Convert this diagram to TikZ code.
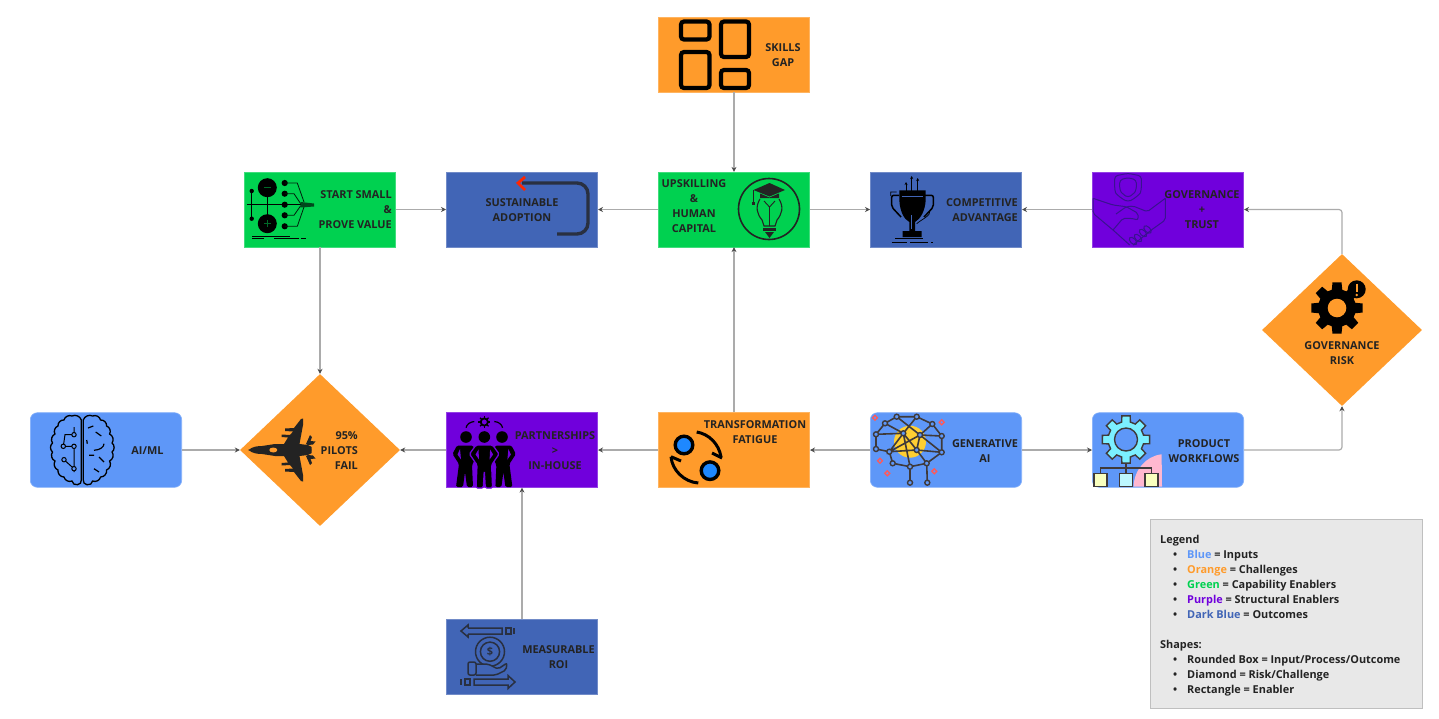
\documentclass[tikz,border=0pt]{standalone}
\usepackage{fontspec}
\setmainfont{Open Sans}
\usepackage{xcolor}
\definecolor{colInput}{HTML}{5E97F8}
\definecolor{colChallenge}{HTML}{FF9B2B}
\definecolor{colCapability}{HTML}{00D150}
\definecolor{colStructural}{HTML}{7000DC}
\definecolor{colOutcome}{HTML}{4165B6}
\definecolor{colInk}{HTML}{232323}
\definecolor{colHand}{HTML}{3A1290}
\definecolor{colNet}{HTML}{3F3A3A}
\definecolor{colPink}{HTML}{FFB8D0}
\definecolor{colCyan}{HTML}{7BEFFF}
\definecolor{colSun}{HTML}{FFCF33}
\definecolor{colSpot}{HTML}{1E88FF}
\usetikzlibrary{arrows.meta, positioning, calc, shapes.geometric}
\tikzset{
	blockrect/.style={rectangle, minimum width=151.4pt, minimum height=74.6pt, inner sep=0pt, fill=#1, draw=#1!75!white, line width=0.6pt},
	blockround/.style={blockrect=#1, rounded corners=7pt},
	riskdiamond/.style={diamond, minimum width=160pt, minimum height=152pt, inner sep=0pt, fill=colChallenge},
	lbl/.style={font=\fontsize{10.9}{15}\selectfont\bfseries, text=colInk, align=center, inner sep=0pt},
	conn/.style={draw=black!33, line width=1.2pt, rounded corners=3pt, -{Stealth[length=5pt,width=5pt,color=black!70]}},
}
\newcommand{\legitem}[1]{\makebox[27pt][l]{\hspace{13pt}\textbullet}#1}
\begin{document}
\begin{tikzpicture}[x=1pt, y=-1pt, >=Stealth]
	\useasboundingbox (0,0) rectangle (1439,718);
	% boxes
	\node[blockrect=colChallenge] (skills) at (734,54.5) {};
	\node[blockrect=colCapability] (upskill) at (734,209.5) {};
	\node[blockrect=colOutcome] (adoption) at (522,209.5) {};
	\node[blockrect=colCapability] (start) at (320,209.5) {};
	\node[blockrect=colOutcome] (advantage) at (946,209.5) {};
	\node[blockrect=colStructural] (trust) at (1168,209.5) {};
	\node[riskdiamond] (risk) at (1342,330) {};
	\node[blockround=colInput] (aiml) at (106,450) {};
	\node[riskdiamond] (pilots) at (320,450) {};
	\node[blockrect=colStructural] (partner) at (522,450) {};
	\node[blockrect=colChallenge] (fatigue) at (734,450) {};
	\node[blockround=colInput] (genai) at (946,450) {};
	\node[blockround=colInput] (product) at (1168,450) {};
	\node[blockrect=colOutcome] (roi) at (522,656.5) {};
	% connectors
	\draw[conn] (skills.south) -- (upskill.north);
	\draw[conn] (upskill.west) -- (adoption.east);
	\draw[conn] (upskill.east) -- (advantage.west);
	\draw[conn] (start.east) -- (adoption.west);
	\draw[conn] (start.south) -- (pilots.north);
	\draw[conn] (fatigue.north) -- (upskill.south);
	\draw[conn] (genai.west) -- (fatigue.east);
	\draw[conn] (genai.east) -- (product.west);
	\draw[conn] (product.east) -| (risk.south);
	\draw[conn] (risk.north) |- (trust.east);
	\draw[conn] (trust.west) -- (advantage.east);
	\draw[conn] (fatigue.west) -- (partner.east);
	\draw[conn] (partner.west) -- (pilots.east);
	\draw[conn] (aiml.east) -- (pilots.west);
	\draw[conn] (roi.north) -- (partner.south);
	% skills icon
	\draw[black, line width=4.2pt, rounded corners=3pt] (681,21.5) rectangle (709.5,39.5);
	\draw[black, line width=4.2pt, rounded corners=3pt] (721,21.5) rectangle (749,57);
	\draw[black, line width=4.2pt, rounded corners=3pt] (681,52) rectangle (709.5,88);
	\draw[black, line width=4.2pt, rounded corners=3pt] (721,70) rectangle (749,88);
	% circuit icon
	\draw[black, line width=1pt] (251.7,191) -- (251.7,218.7) (267.3,188) -- (267.3,223);
	\draw[black, line width=1.4pt] (247.3,204.7) -- (302,204.7);
	\fill[black] (267.3,187.7) circle (9.5) (267.3,223.7) circle (9.5) (251.7,191) circle (2.2) (251.7,218.7) circle (2.2);
	\draw[black!50!colCapability, line width=1.1pt] (264,187.7) -- (270.6,187.7) (264,223.7) -- (270.6,223.7) (267.3,220.4) -- (267.3,227);
	\foreach \y/\k/\e/\f in {183/297.3/304/202, 193.7/294/300.7/203.7, 215.3/294/300.7/205.7, 226.3/297.3/304/207}{
		\fill[black] (284.7,\y) circle (3.1);
		\draw[black!85!colCapability, line width=0.8pt] (284.7,\y) -- (\k,\y) -- (\e,\f);
	}
	\fill[black] (284.7,204.7) circle (3.1);
	\fill[black!65!colCapability] (300.7,202) -- (314,203.5) -- (314,206.5) -- (300.7,207.5) -- cycle;
	\draw[black, line width=0.9pt] (252.3,236.3) -- (290,236.3) (252.3,238.7) -- (264,238.7) (274,238.7) -- (299,238.7) (301.3,238.7) -- (305.7,238.7);
	% u-turn icon
	\draw[colInk!80!colOutcome, line width=3.4pt, rounded corners=11pt] (557,234) -- (588,234) -- (588,183) -- (522,183);
	\draw[red!70!orange, line width=2.8pt] (525,177) -- (518,183) -- (525,190);
	% bulb icon
	\draw[colInk, line width=1.6pt] (769,209) circle (30.5);
	\fill[colInk] (769.5,183) -- (785,190) -- (769.5,196.5) -- (753.5,190) -- cycle;
	\fill[colInk] (760,193.5) -- (760,198) -- (779,198) -- (779,193.5) -- (769.5,197.5) -- cycle;
	\draw[colInk, line width=0.9pt] (753.5,190) -- (753.5,202);
	\fill[colInk] (752,201.5) rectangle (755,205);
	\draw[colInk, line width=1.1pt] (760,199) .. controls (755,207) and (757,214) .. (762,220) -- (764,226) -- (775,226) -- (777,220) .. controls (782,214) and (784,207) .. (779,199);
	\draw[colInk, line width=0.9pt] (769.5,226) -- (769.5,207) (764,201) -- (769.5,207) -- (775,201);
	\fill[colInk] (763,227.5) rectangle (776,231);
	\fill[colInk] (765,232) -- (774,232) -- (769.5,238) -- cycle;
	% trophy icon
	\foreach \x/\y in {906/182, 911.7/176, 917.7/178}{
		\draw[black, line width=0.8pt, -{Stealth[length=3pt,width=3pt]}] (\x,191) -- (\x,\y);
	}
	\draw[black, line width=1.5pt, rounded corners=2pt] (899,195.3) -- (891.7,195.3) -- (891.7,207) -- (901,217);
	\draw[black, line width=1.5pt, rounded corners=2pt] (925,195.3) -- (933.3,195.3) -- (933.3,207) -- (924,217);
	\fill[black] (899.3,190.3) -- (925.7,190.3) -- (925.7,200) .. controls (925,212) and (920,219) .. (915,222) -- (915,231) -- (921.7,231) -- (921.7,237) -- (902.7,237) -- (902.7,231) -- (909.3,231) -- (909.3,222) .. controls (904,219) and (900,212) .. (899.3,200) -- cycle;
	\draw[colOutcome, line width=0.7pt] (901.7,196) -- (923,196) (911.7,215) -- (911.7,229);
	\draw[black, line width=0.7pt] (890.7,196) -- (890.7,192) -- (896.7,192) (930,210.3) .. controls (931,216) and (922,219) .. (916.7,223.7);
	\draw[black, line width=0.8pt] (895,238.7) -- (923.3,238.7) (891.7,242) -- (906.7,242) (910,242) -- (928.3,242) (931,242) -- (933,242);
	% handshake icon
	\draw[colHand, line width=1pt, rounded corners=3pt] (1128,173.3) -- (1114.7,176) -- (1114.7,190) .. controls (1116,194) and (1122,199) .. (1128,201.7) .. controls (1134,199) and (1140,194) .. (1141.3,190) -- (1141.3,176) -- cycle;
	\draw[colHand, line width=1pt, rounded corners=3pt] (1128,177.5) -- (1119.7,180) -- (1119.7,190) .. controls (1121,192) and (1124,195) .. (1128,197.5) .. controls (1132,195) and (1135,192) .. (1136.3,190) -- (1136.3,180) -- cycle;
	\draw[colHand, line width=1pt, rounded corners=2pt] (1093,198.3) -- (1113,205) -- (1126.3,206.7) -- (1138,213.3) -- (1138,220) -- (1131.3,218.3) -- (1123,218.3) -- (1113,230) (1093,198.3) -- (1093,213.3) -- (1113,230) -- (1129.7,245);
	\draw[colHand, line width=1pt, rounded corners=2pt] (1165.3,198.3) -- (1147.3,211.7) -- (1133,206) -- (1126.3,206.7) -- (1116,214) (1165.3,198.3) -- (1165.3,220) -- (1151.3,230) -- (1133,245);
	\foreach \x/\y in {1133/241, 1138/238, 1143/233, 1147.5/229.5}{
		\draw[colHand, line width=1pt, rotate around={45:(\x,\y)}] (\x,\y) ellipse (2.6 and 4.6);
	}
	% risk gear icon
	\begin{scope}[shift={(1337,308)}]
		\fill[black] (-18:19) \foreach \a in {0,45,...,315}{ -- (\a-16:19) -- (\a-10:26) -- (\a+10:26) -- (\a+16:19) } -- cycle;
		\fill[colChallenge] (0,0) circle (9.3);
	\end{scope}
	\fill[black] (1356.7,289.3) circle (9);
	\draw[colChallenge, line width=2pt] (1356.7,283.5) -- (1356.7,291.5);
	\fill[colChallenge] (1356.7,295) circle (1.3);
	% product icon
	\fill[colPink] (1133.5,486.7) .. controls (1134,470) and (1146,456) .. (1161.6,454.3) -- (1162,486.7) -- cycle;
	\begin{scope}[shift={(1126,439.5)}]
		\draw[fill=colCyan, draw=colNet, line width=1.4pt] (-18:18) \foreach \a in {0,45,...,315}{ -- (\a-14:18) -- (\a-10:24) -- (\a+10:24) -- (\a+14:18) } -- cycle;
		\draw[fill=colInput, draw=colNet, line width=1.4pt] (0,0) circle (11.5);
	\end{scope}
	\draw[colNet, line width=1.5pt] (1126,463) -- (1126,473) (1100.5,473) -- (1100.5,468) -- (1151.5,468) -- (1151.5,473);
	\foreach \x/\c in {1100.5/green!10!yellow!25!white, 1126/colCyan!50!white, 1151.5/green!10!yellow!25!white}{
		\draw[fill=\c, draw=colNet, line width=1.7pt] (\x-6.5,473.5) rectangle (\x+6.5,486.5);
	}
	% network icon
	\fill[colSun] (910,441.7) circle (16);
	\foreach \x/\y in {875/417.7, 941.7/422.3, 880/460.7, 887.3/473.3, 934.3/471.3}{
		\draw[red!65!white, line width=1.3pt] (\x-2.5,\y) -- (\x,\y-2.5) -- (\x+2.5,\y) -- (\x,\y+2.5) -- cycle;
	}
	\draw[colNet, line width=1.6pt]
		(885,423.3) -- (896.7,416.7) -- (916.7,416.7) -- (932.3,424) -- (941.7,436) -- (941.7,452.3) -- (926.7,463.3) -- (927.3,482.7)
		(885,423.3) -- (876,434.3) -- (876,449) -- (889.3,451.7) -- (892.7,463.3) -- (910,466.7) -- (910,482.7)
		(885,423.3) -- (903.3,433.3) -- (916.7,450) -- (941.7,452.3)
		(896.7,416.7) -- (920,435) -- (941.7,452.3)
		(916.7,416.7) -- (903.3,433.3) -- (889.3,451.7) -- (920,435) -- (932.3,424)
		(876,434.3) -- (903.3,433.3) (889.3,451.7) -- (916.7,450) -- (926.7,463.3) -- (910,466.7) (903.3,433.3) -- (910,466.7) (941.7,436) -- (920,435) -- (916.7,450);
	\foreach \x/\y in {896.7/416.7, 916.7/416.7, 885/423.3, 932.3/424, 941.7/436, 876/434.3, 876/449, 941.7/452.3, 889.3/451.7, 903.3/433.3, 920/435, 916.7/450, 892.7/463.3, 910/466.7, 926.7/463.3, 910/482.7, 927.3/482.7}{
		\draw[fill=colInput, draw=colNet, line width=1.4pt] (\x,\y) circle (2.5);
	}
	% cycle icon
	\draw[black, line width=3pt] (696.7,432) .. controls (709,434) and (719,444) .. (721,457);
	\draw[black, line width=3pt] (712,453) -- (722,458);
	\draw[black, line width=3pt] (698.3,483) .. controls (684,482) and (672,470) .. (671,456.7);
	\draw[black, line width=3pt] (671,456.7) -- (681,461);
	\draw[fill=colSpot, draw=black, line width=3.4pt] (684,445) circle (8.8);
	\draw[fill=colSpot, draw=black, line width=3.4pt] (710,470.7) circle (8.8);
	% people icon
	\foreach \x in {466,484.3,502}{
		\fill[black] (\x,437) circle (5.8);
	}
	\fill[black, rounded corners=1.5pt] (457,445.5) -- (452.5,454) -- (459,464) -- (456,487) -- (463,487) -- (465,472) -- (467,487) -- (473,487) -- (472,465) -- (477,455) -- (473,445.5) -- cycle;
	\fill[black, rounded corners=1.5pt] (511.4,445.5) -- (515.9,454) -- (509.4,464) -- (512.4,487) -- (505.4,487) -- (503.4,472) -- (501.4,487) -- (495.4,487) -- (496.4,465) -- (491.4,455) -- (495.4,445.5) -- cycle;
	\fill[colStructural] (460,449) -- (457.5,454.5) -- (461,459.5) -- cycle (508.4,449) -- (510.9,454.5) -- (507.4,459.5) -- cycle;
	\draw[fill=black, draw=colStructural, line width=1.3pt, rounded corners=1.5pt] (476,445) -- (469.5,454) -- (477,465) -- (476,488) -- (483.3,488) -- (484.3,471) -- (485.3,488) -- (492.6,488) -- (491.6,465) -- (499.1,454) -- (492.6,445) -- cycle;
	\fill[colStructural] (478.5,449.5) -- (475.5,454.5) -- (479,459.5) -- cycle (490.1,449.5) -- (493.1,454.5) -- (489.6,459.5) -- cycle;
	\begin{scope}[shift={(484.3,422)}]
		\draw[black, line width=1.8pt] (0,0) circle (3.6);
		\foreach \a in {0,45,...,315}{
			\draw[black, line width=1.3pt] (\a:4) -- (\a:6);
		}
	\end{scope}
	\draw[black, line width=1.2pt] (466,427.7) .. controls (467,424) and (470,422) .. (474.3,421.5) (502.6,427.7) .. controls (501.6,424) and (498.6,422) .. (494.3,421.5);
	% brain icon
	\draw[black, line width=1.3pt] (81.3,420) to[bend right=50] (72,416) to[bend right=50] (64,420) to[bend right=50] (58,426) to[bend right=50] (55,434) to[bend right=50] (52.5,443) to[bend right=50] (52.5,452) to[bend right=50] (55,461) to[bend right=50] (58,470) to[bend right=50] (64,477) to[bend right=50] (72,481) to[bend right=50] (77.5,484.7) to[bend right=50] (81.3,480) -- cycle;
	\draw[black, line width=1.3pt] (83.3,420) to[bend left=50] (92.6,416) to[bend left=50] (100.6,420) to[bend left=50] (106.6,426) to[bend left=50] (109.6,434) to[bend left=50] (112.1,443) to[bend left=50] (112.1,452) to[bend left=50] (109.6,461) to[bend left=50] (106.6,470) to[bend left=50] (100.6,477) to[bend left=50] (92.6,481) to[bend left=50] (87.1,484.7) to[bend left=50] (83.3,480) -- cycle;
	\draw[black, line width=1pt] (74,427) -- (74,434.7) -- (65,434.7) -- (63.3,446.3) -- (74,446.3) (74,446.3) -- (74,472) (64,459.7) -- (74,468.7);
	\foreach \x/\y in {74/434.7, 63.3/446.3, 74/446.3, 64/459.7, 74/468.7}{
		\draw[fill=colInput, draw=black, line width=1pt] (\x,\y) circle (2.2);
	}
	\draw[black, line width=1.2pt] (88,428) -- (93.3,426) (95.7,432) -- (101.3,436) (104,443.7) .. controls (104,447) and (100,450) .. (94,450.3) (86.7,440) -- (87.3,443.7) (89,455.3) -- (94,455.3) (99,457) -- (104,462) (94,468.7) -- (99,472);
	% plane icon
	\foreach \s in {1,-1}{
		\begin{scope}[shift={(0,450)}, yscale=\s]
			\fill[colInk] (248.3,0.3) .. controls (252,-3.5) and (258,-4) .. (262,-4) -- (275,-6) -- (284,-6) -- (288,-12.5) -- (281.5,-13) -- (281.5,-15.5) -- (290,-15) -- (293,-18.5) -- (285,-19) -- (285,-21.5) -- (294,-22) -- (301,-31) -- (303,-31.5) -- (303,-25) -- (299.5,-6) -- (308,-5) -- (311.7,-3) -- (311.7,0.3) -- cycle;
			\fill[colInk] (306,-6) -- (310,-15) -- (312,-13) -- (310.5,-9) -- (315.5,-8.5) -- (313,-5.5) -- (308,-5) -- cycle;
		\end{scope}
	}
	\fill[colChallenge] (273.3,450) ellipse (4 and 2.5);
	% roi icon
	\draw[colInk!80!colOutcome, line width=1.5pt] (468,628) -- (502,628) -- (502,634) -- (468,634) (468,628) -- (468,625) -- (461,631) -- (468,637) -- (468,634);
	\draw[colInk!80!colOutcome, line width=1.5pt] (506,628) rectangle (511,634) (514,628) -- (514,634);
	\draw[colInk!80!colOutcome, line width=1.5pt] (490,651.7) circle (14.5) (490,651.7) circle (9.6);
	\node[font=\fontsize{11}{11}\selectfont\bfseries, text=colInk!80!colOutcome, inner sep=0pt] (roicoin) at (490,651.7) {\$};
	\draw[fill=colOutcome, draw=colInk!80!colOutcome, line width=1.5pt, rounded corners=2pt] (468,662) -- (476,662) -- (476,675) -- (468,675) -- cycle (476,664) -- (488,664) -- (498,669) -- (507,663) -- (506,670) -- (496,675) -- (476,675);
	\draw[colInk!80!colOutcome, line width=1.5pt] (474,679) -- (474,685) -- (508,685) -- (508,688.5) -- (515,682) -- (508,675.5) -- (508,679) -- cycle;
	\draw[colInk!80!colOutcome, line width=1.5pt] (461,679) -- (461,685) (465,679) rectangle (470,685);
	% labels
	\node[lbl] (skillslbl) at (783,55.5) {SKILLS\\GAP};
	\node[lbl] (upskilllbl) at (694,206) {UPSKILLING\\\&\\HUMAN\\CAPITAL};
	\node[lbl] (adoptionlbl) at (522,210) {SUSTAINABLE\\ADOPTION};
	\node[lbl, align=right, anchor=east] (startlbl) at (392,210) {START SMALL\\\&\\PROVE VALUE};
	\node[lbl, align=right, anchor=east] (advantagelbl) at (1018,209.8) {COMPETITIVE\\ADVANTAGE};
	\node[lbl] (trustlbl) at (1202,209.8) {GOVERNANCE\\+\\TRUST};
	\node[lbl] (risklbl) at (1342,353) {GOVERNANCE\\RISK};
	\node[lbl] (aimllbl) at (147.5,450.8) {AI/ML};
	\node[lbl, align=right, anchor=east] (pilotslbl) at (358,450.8) {95\%\\PILOTS\\FAIL};
	\node[lbl] (partnerlbl) at (555,450.8) {PARTNERSHIPS\\>\\IN-HOUSE};
	\node[lbl] (fatiguelbl) at (755,432) {TRANSFORMATION\\FATIGUE};
	\node[lbl] (genailbl) at (985,450.8) {GENERATIVE\\AI};
	\node[lbl] (productlbl) at (1204,450.8) {PRODUCT\\WORKFLOWS};
	\node[lbl] (roilbl) at (558.5,657.3) {MEASURABLE\\ROI};
	% legend
	\node[fill=black!9, draw=black!25, line width=0.9pt, minimum width=272pt, minimum height=189pt, inner sep=0pt, anchor=north west] (legend) at (1150,519) {};
	\node[lbl, align=left, anchor=north west] (legendtxt) at (1160,535) {%
		Legend\\
		\legitem{\textcolor{colInput}{Blue} = Inputs}\\
		\legitem{\textcolor{colChallenge}{Orange} = Challenges}\\
		\legitem{\textcolor{colCapability}{Green} = Capability Enablers}\\
		\legitem{\textcolor{colStructural}{Purple} = Structural Enablers}\\
		\legitem{\textcolor{colOutcome}{Dark Blue} = Outcomes}\\[15pt]
		Shapes:\\
		\legitem{Rounded Box = Input/Process/Outcome}\\
		\legitem{Diamond = Risk/Challenge}\\
		\legitem{Rectangle = Enabler}};
\end{tikzpicture}
\end{document}
